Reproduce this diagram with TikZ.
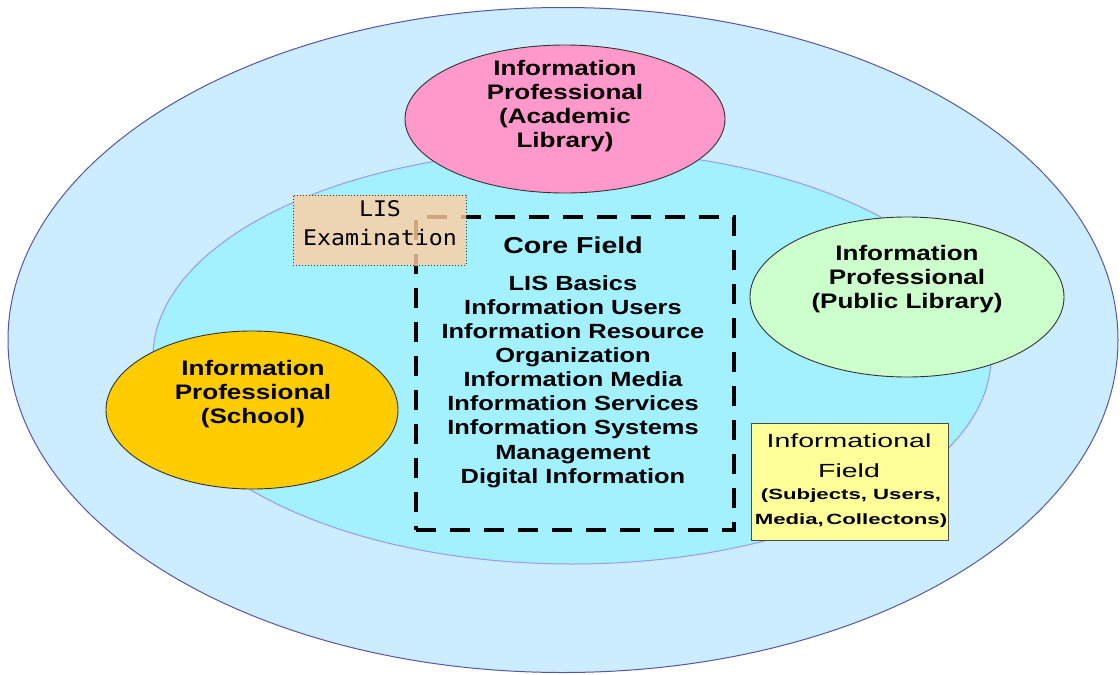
\documentclass[tikz,border=0pt]{standalone}
\usepackage{fontspec}
\setmainfont{Liberation Sans}
\newfontfamily\wfont[FakeStretch=1.24]{Liberation Sans}
\newfontfamily\yfont[FakeStretch=1.5]{Liberation Sans}
\newfontfamily\mfont[FakeStretch=1.08]{DejaVu Sans Mono}
\usetikzlibrary{shapes.geometric}
\definecolor{outerfill}{HTML}{CCECFF}
\definecolor{outerline}{HTML}{5555AA}
\definecolor{innerfill}{HTML}{A3F1FF}
\definecolor{innerline}{HTML}{9999EE}
\definecolor{pinkfill}{HTML}{FF99CC}
\definecolor{greenfill}{HTML}{CCFFCC}
\definecolor{orangefill}{HTML}{FFCC00}
\definecolor{tanfill}{HTML}{EDD5B3}
\definecolor{tandash}{HTML}{CFA77F}
\definecolor{yellowfill}{HTML}{FFFF99}
\tikzset{
  ell/.style={ellipse, draw=black!80, line width=0.9pt, inner sep=0pt},
  lbl/.style={align=center, inner sep=0pt, font=\wfont\bfseries\fontsize{21}{24}\selectfont},
  corebox/.style={draw=black, line width=4pt, dash pattern=on 20pt off 14pt, inner sep=0pt, minimum width=318pt, minimum height=313pt},
}
\begin{document}
\begin{tikzpicture}[x=1pt,y=-1pt]
\useasboundingbox (0,0) rectangle (1120,675);
% big ellipses
\node[ellipse, fill=outerfill, draw=outerline, line width=1pt, minimum width=1110pt, minimum height=665pt, inner sep=0pt] (outer) at (563,340) {};
\node[ellipse, fill=innerfill, draw=innerline, line width=1pt, minimum width=838pt, minimum height=414pt, inner sep=0pt] (inner) at (572,357) {};
% professional ellipses
\node[ell, fill=pinkfill, minimum width=320pt, minimum height=148pt] (acad) at (565,119) {};
\node[ell, fill=greenfill, minimum width=314pt, minimum height=160pt] (pub) at (907,297) {};
\node[ell, fill=orangefill, minimum width=292pt, minimum height=158pt] (school) at (252,410) {};
% core field dashed box
\node[corebox] (core) at (575,373.5) {};
% LIS Examination box
\node[draw=black!80, dotted, line width=1pt, fill=tanfill, minimum width=173pt, minimum height=70pt, inner sep=0pt] (lisbox) at (379.5,230) {};
\begin{scope}
  \clip ([xshift=0.5pt,yshift=-0.5pt]lisbox.north west) rectangle ([xshift=-0.5pt,yshift=0.5pt]lisbox.south east);
  \node[corebox, draw=tandash] (coreghost) at (core.center) {};
\end{scope}
% Informational field box
\node[draw=black!70, line width=1pt, fill=yellowfill, minimum width=197pt, minimum height=117pt, inner sep=0pt] (infobox) at (849.5,481.5) {};
% texts
\node[lbl] (acadtxt) at (565,106) {Information\\Professional\\(Academic\\Library)};
\node[lbl] (pubtxt) at (907,279) {Information\\Professional\\(Public Library)};
\node[lbl] (schooltxt) at (253,394) {Information\\Professional\\(School)};
\node[align=center, inner sep=0pt, font=\mfont\fontsize{21.5}{29}\selectfont] (listxt) at (380,223.5) {LIS\\Examination};
\node[inner sep=0pt, font=\wfont\bfseries\fontsize{23}{24}\selectfont] (coretitle) at (573,245) {Core Field};
\node[lbl, font=\wfont\bfseries\fontsize{20.5}{24.1}\selectfont] (corelist) at (573,381.5) {LIS Basics\\Information Users\\Information Resource\\Organization\\Information Media\\Information Services\\Information Systems\\Management\\Digital Information};
\node[align=center, inner sep=0pt, font=\yfont\fontsize{19}{30}\selectfont] (infotitle) at (849,456) {Informational\\Field};
\node[align=center, inner sep=0pt, font=\yfont\bfseries\fontsize{14.8}{25}\selectfont] (infosub) at (851,508.5) {(Subjects, Users,\\Media,\,Collectons)};
\end{tikzpicture}
\end{document}
